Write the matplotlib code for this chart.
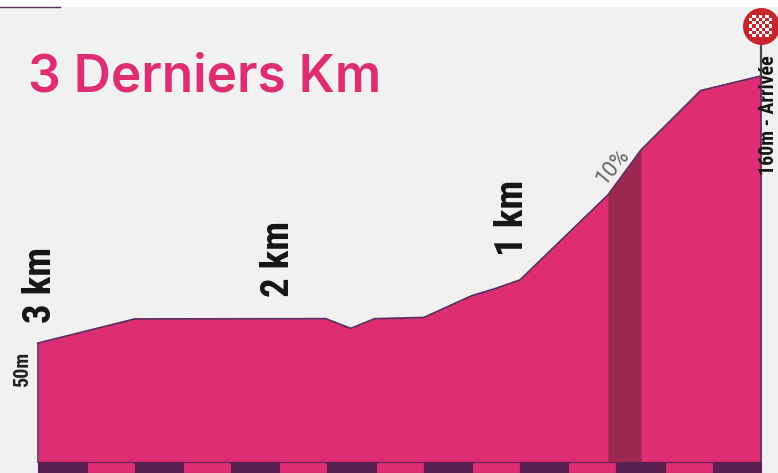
import matplotlib
matplotlib.use("Agg")
import matplotlib.pyplot as plt
import numpy as np
from matplotlib.patches import Rectangle

# Data: distance from 3 km mark, elevation in metres
dist_km = [0.0, 0.4, 1.193, 1.297, 1.396, 1.6, 1.8, 1.9, 2.0, 2.365, 2.502, 2.75, 3.0]
elev_m = [50, 59.9, 60, 56, 60, 60.5, 69.5, 72.5, 76, 111, 129.5, 154, 160]
steep_start, steep_end = 2.365, 2.502
steep_label = "10%"
km_labels = ["3 km", "2 km", "1 km"]
start_label = "50m"
finish_label = "160m - Arrivée"
title = "3 Derniers Km"
strip_km = 0.2

PINK = "#de2d72"
DARK = "#5a2150"
LINE = "#5f2a5c"
BG = "#f1f1f1"
W, H = 778, 473

fig = plt.figure(figsize=(W / 100, H / 100), dpi=100, facecolor="white")
ax = fig.add_axes([0, 0, 1, 1])
ax.set_facecolor("white")
px_km = 240.8
x0 = 38.5
px_m = 2.427
y50 = 343
ax.set_xlim(-x0 / px_km, (W - x0) / px_km)
ax.set_ylim(50 - (H - y50) / px_m, 50 + y50 / px_m)
ax.axis("off")
to_y = lambda py: 50 + (y50 - py) / px_m
to_x = lambda px: (px - x0) / px_km

ax.add_patch(Rectangle((to_x(0), to_y(H)), W / px_km, (H - 7) / px_m, fc=BG, ec="none", zorder=0))
ax.plot([to_x(0), to_x(60)], [to_y(7), to_y(7)], color=LINE, lw=1.0, zorder=1)

base = to_y(461.5)
ax.fill_between(dist_km, elev_m, base, color=PINK, lw=0, zorder=2)
d = np.array(dist_km)
e = np.array(elev_m)
mask = (d >= steep_start) & (d <= steep_end)
ax.fill_between(d[mask], e[mask], base, color="#9c2850", lw=0, zorder=3)
ax.plot(dist_km, elev_m, color=LINE, lw=1.3, zorder=4, solid_joinstyle="round")
ax.plot([0, 0], [base, elev_m[0]], color=LINE, lw=1.2, zorder=4)
ax.plot([3, 3], [base, elev_m[-1]], color=LINE, lw=1.2, zorder=4)

# kilometre strip
strip_h = base - to_y(H)
n = int(round(3 / strip_km))
for i in range(n):
    ax.add_patch(Rectangle((i * strip_km, to_y(H)), strip_km, strip_h,
                           fc=DARK if i % 2 == 0 else PINK, ec=DARK, lw=0.8, zorder=5))

# finish pole and flag
ax.plot([3, 3], [elev_m[-1], to_y(40)], color="#4a4a4a", lw=1.6, zorder=1)
ax.scatter([3], [to_y(26.5)], s=(37 * 0.72) ** 2, color="#c8242b", zorder=6, lw=0)

fax = fig.add_axes([749 / W, 1 - 37 / H, 23 / W, 22 / H])
idx = np.indices((7, 7))
checker = idx.sum(axis=0) % 2
checker = np.ma.masked_where(np.hypot(*(idx - 3)) > 3.9, checker)
fax.pcolormesh(checker, cmap=matplotlib.colors.ListedColormap(["#c8242b", "#ffffff"]), vmin=0, vmax=1)
fax.axis("off")

# text
ax.text(to_x(28), to_y(91.5), title, color=PINK, fontsize=37, family="Inter",
        weight="semibold", ha="left", va="baseline", zorder=7)
narrow = "Roboto Condensed"
for px, lab, py in zip([59, 297, 531], km_labels, [323, 297, 256]):
    ax.text(to_x(px), to_y(py), lab, rotation=90, family=narrow, weight="bold", fontsize=28,
            ha="right", va="bottom", color="#151515", zorder=7)
ax.text(to_x(32), to_y(387), start_label, rotation=90, family=narrow, weight="bold", fontsize=14.5,
        ha="right", va="bottom", color="#222222", zorder=7)
ax.text(to_x(774.5), to_y(175), finish_label, rotation=90, family=narrow, weight="bold", fontsize=14.3,
        ha="left", va="baseline", rotation_mode="anchor", color="#151515", zorder=7)
ax.text(to_x(613), to_y(167), steep_label, rotation=50, fontsize=15.5, family="Roboto", weight="normal",
        ha="center", va="center", color="#666666", zorder=7, rotation_mode="anchor")

fig.savefig("out.png", dpi=100, facecolor="white")
